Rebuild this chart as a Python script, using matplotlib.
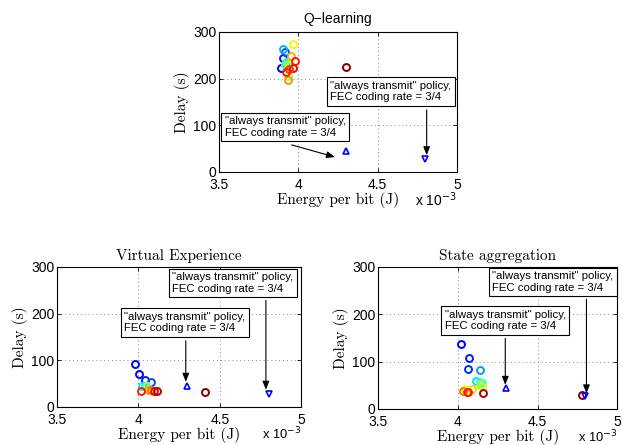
import matplotlib
matplotlib.use("Agg")
import matplotlib.pyplot as plt
from matplotlib import cm

# ---- data (energy in units of 1e-3 J, delay in s, colour index 0..1 on jet) ----
q_x = [3.893, 3.901, 3.918, 3.901, 3.926, 3.920, 3.915, 3.930, 3.940, 3.935, 3.968, 3.952, 3.933, 3.979, 3.968, 3.943, 3.922, 4.300]
q_y = [223, 243, 256, 263, 236, 236, 228, 232, 228, 205, 273, 248, 197, 237, 222, 220, 215, 225]
q_c = [0.12, 0.15, 0.20, 0.30, 0.25, 0.38, 0.42, 0.50, 0.60, 0.55, 0.65, 0.72, 0.75, 0.88, 0.90, 0.85, 0.88, 1.00]

ve_x = [3.981, 4.006, 4.041, 4.078, 4.024, 4.040, 4.055, 4.067, 4.060, 4.018, 4.080, 4.098, 4.113, 4.410]
ve_y = [93, 71, 58, 54, 46, 45, 44, 36, 37, 34, 36, 35, 35, 33]
ve_c = [0.10, 0.12, 0.15, 0.20, 0.35, 0.40, 0.55, 0.65, 0.72, 0.88, 0.80, 0.90, 0.95, 1.00]

sa_x = [4.021, 4.069, 4.065, 4.138, 4.115, 4.140, 4.148, 4.140, 4.148, 4.088, 4.046, 4.030, 4.056, 4.062, 4.155, 4.780]
sa_y = [137, 107, 84, 82, 60, 57, 55, 50, 47, 42, 42, 37, 35, 36, 34, 30]
sa_c = [0.12, 0.15, 0.17, 0.28, 0.35, 0.40, 0.45, 0.55, 0.60, 0.68, 0.65, 0.78, 0.85, 0.88, 0.95, 1.00]

# reference policies: "always transmit", FEC 3/4
tri_up = (4.30, 45)
tri_down = (4.80, 27)

x_ticks = [3.5, 4, 4.5, 5]
x_tick_labels = ["3.5", "4", "4.5", "5"]
y_ticks = [0, 100, 200, 300]
y_tick_labels = ["0", "100", "200", "300"]

titles = ["Q\u2212learning", "Virtual Experience", "State aggregation"]
ann_text = "\"always transmit\" policy,\nFEC coding rate = 3/4"

# annotation layout (box top-left, arrow tail, arrow head) per panel, data coords
ann = [
    dict(b1=(4.187, 199), b2=(3.523, 124), a1=((4.809, 133), (4.809, 36)), a2=((3.958, 58), (4.231, 32))),
    dict(b1=(4.195, 293), b2=(3.900, 208), a1=((4.783, 228), (4.783, 37)), a2=((4.291, 142), (4.291, 54))),
    dict(b1=(4.203, 295), b2=(3.904, 214), a1=((4.806, 232), (4.806, 33)), a2=((4.297, 149), (4.297, 51))),
]

plt.rcParams['axes.formatter.use_mathtext'] = True
fig = plt.figure(figsize=(6.23, 4.45), dpi=100)
positions = [
    [0.3515, 0.6135, 0.382, 0.315],
    [0.0915, 0.0854, 0.392, 0.315],
    [0.607, 0.081, 0.384, 0.319],
]
datasets = [(q_x, q_y, q_c), (ve_x, ve_y, ve_c), (sa_x, sa_y, sa_c)]

sans = "Liberation Sans"
serif = "cmr10"

for i, (pos, (xs, ys, cs)) in enumerate(zip(positions, datasets)):
    ax = fig.add_axes(pos)
    ax.set_xlim(3.5, 5)
    ax.set_ylim(0, 300)
    ax.set_xticks(x_ticks)
    ax.set_xticklabels(x_tick_labels, fontfamily=sans, fontsize=10)
    ax.set_yticks(y_ticks)
    ax.set_yticklabels(y_tick_labels, fontfamily=sans, fontsize=10)
    ax.tick_params(direction='in', top=True, right=True, length=3, width=0.6)
    ax.tick_params(axis='x', pad=4.5)
    ax.tick_params(axis='y', pad=2)
    ax.grid(True, linestyle=(0, (1, 3)), color='#888888', linewidth=0.7)
    for s in ax.spines.values():
        s.set_linewidth(0.8)
    for x, y, c in zip(xs, ys, cs):
        ax.plot(x, y, 'o', mfc='none', mec=cm.jet(c), mew=1.4, ms=5, zorder=3)
    ax.plot(tri_up[0], tri_up[1], '^', mfc='none', mec='blue', mew=1.2, ms=5, zorder=3)
    ax.plot(tri_down[0], tri_down[1], 'v', mfc='none', mec='blue', mew=1.2, ms=5, zorder=3)
    if i == 0:
        ax.set_title(titles[i], fontfamily=sans, fontsize=10, pad=6)
    else:
        ax.set_title(titles[i], fontfamily=serif, fontsize=11, pad=5)
    ax.set_xlabel("Energy per bit (J)", fontfamily=serif, fontsize=11, labelpad=0)
    ax.set_ylabel("Delay (s)", fontfamily=serif, fontsize=11, labelpad=2)
    ax.text(1.0, -0.2 if i == 0 else -0.195, r"x 10$^{-3}$", transform=ax.transAxes,
            ha='right', va='center', fontfamily=sans, fontsize=10 if i == 0 else 9.3)
    a = ann[i]
    for key in ("b1", "b2"):
        bx, by = a[key]
        ax.text(bx + 0.013, by - 4, ann_text, ha='left', va='top', fontfamily=sans, fontsize=8.2,
                linespacing=1.2, zorder=5,
                bbox=dict(boxstyle='square,pad=0.3', fc='white', ec='black', lw=0.8))
    for key in ("a1", "a2"):
        tail, head = a[key]
        ax.annotate("", xy=head, xytext=tail, zorder=4,
                    arrowprops=dict(arrowstyle='-|>,head_length=0.5,head_width=0.2',
                                    color='black', lw=0.8, shrinkA=0, shrinkB=0))

fig.savefig("out.png", dpi=100)
